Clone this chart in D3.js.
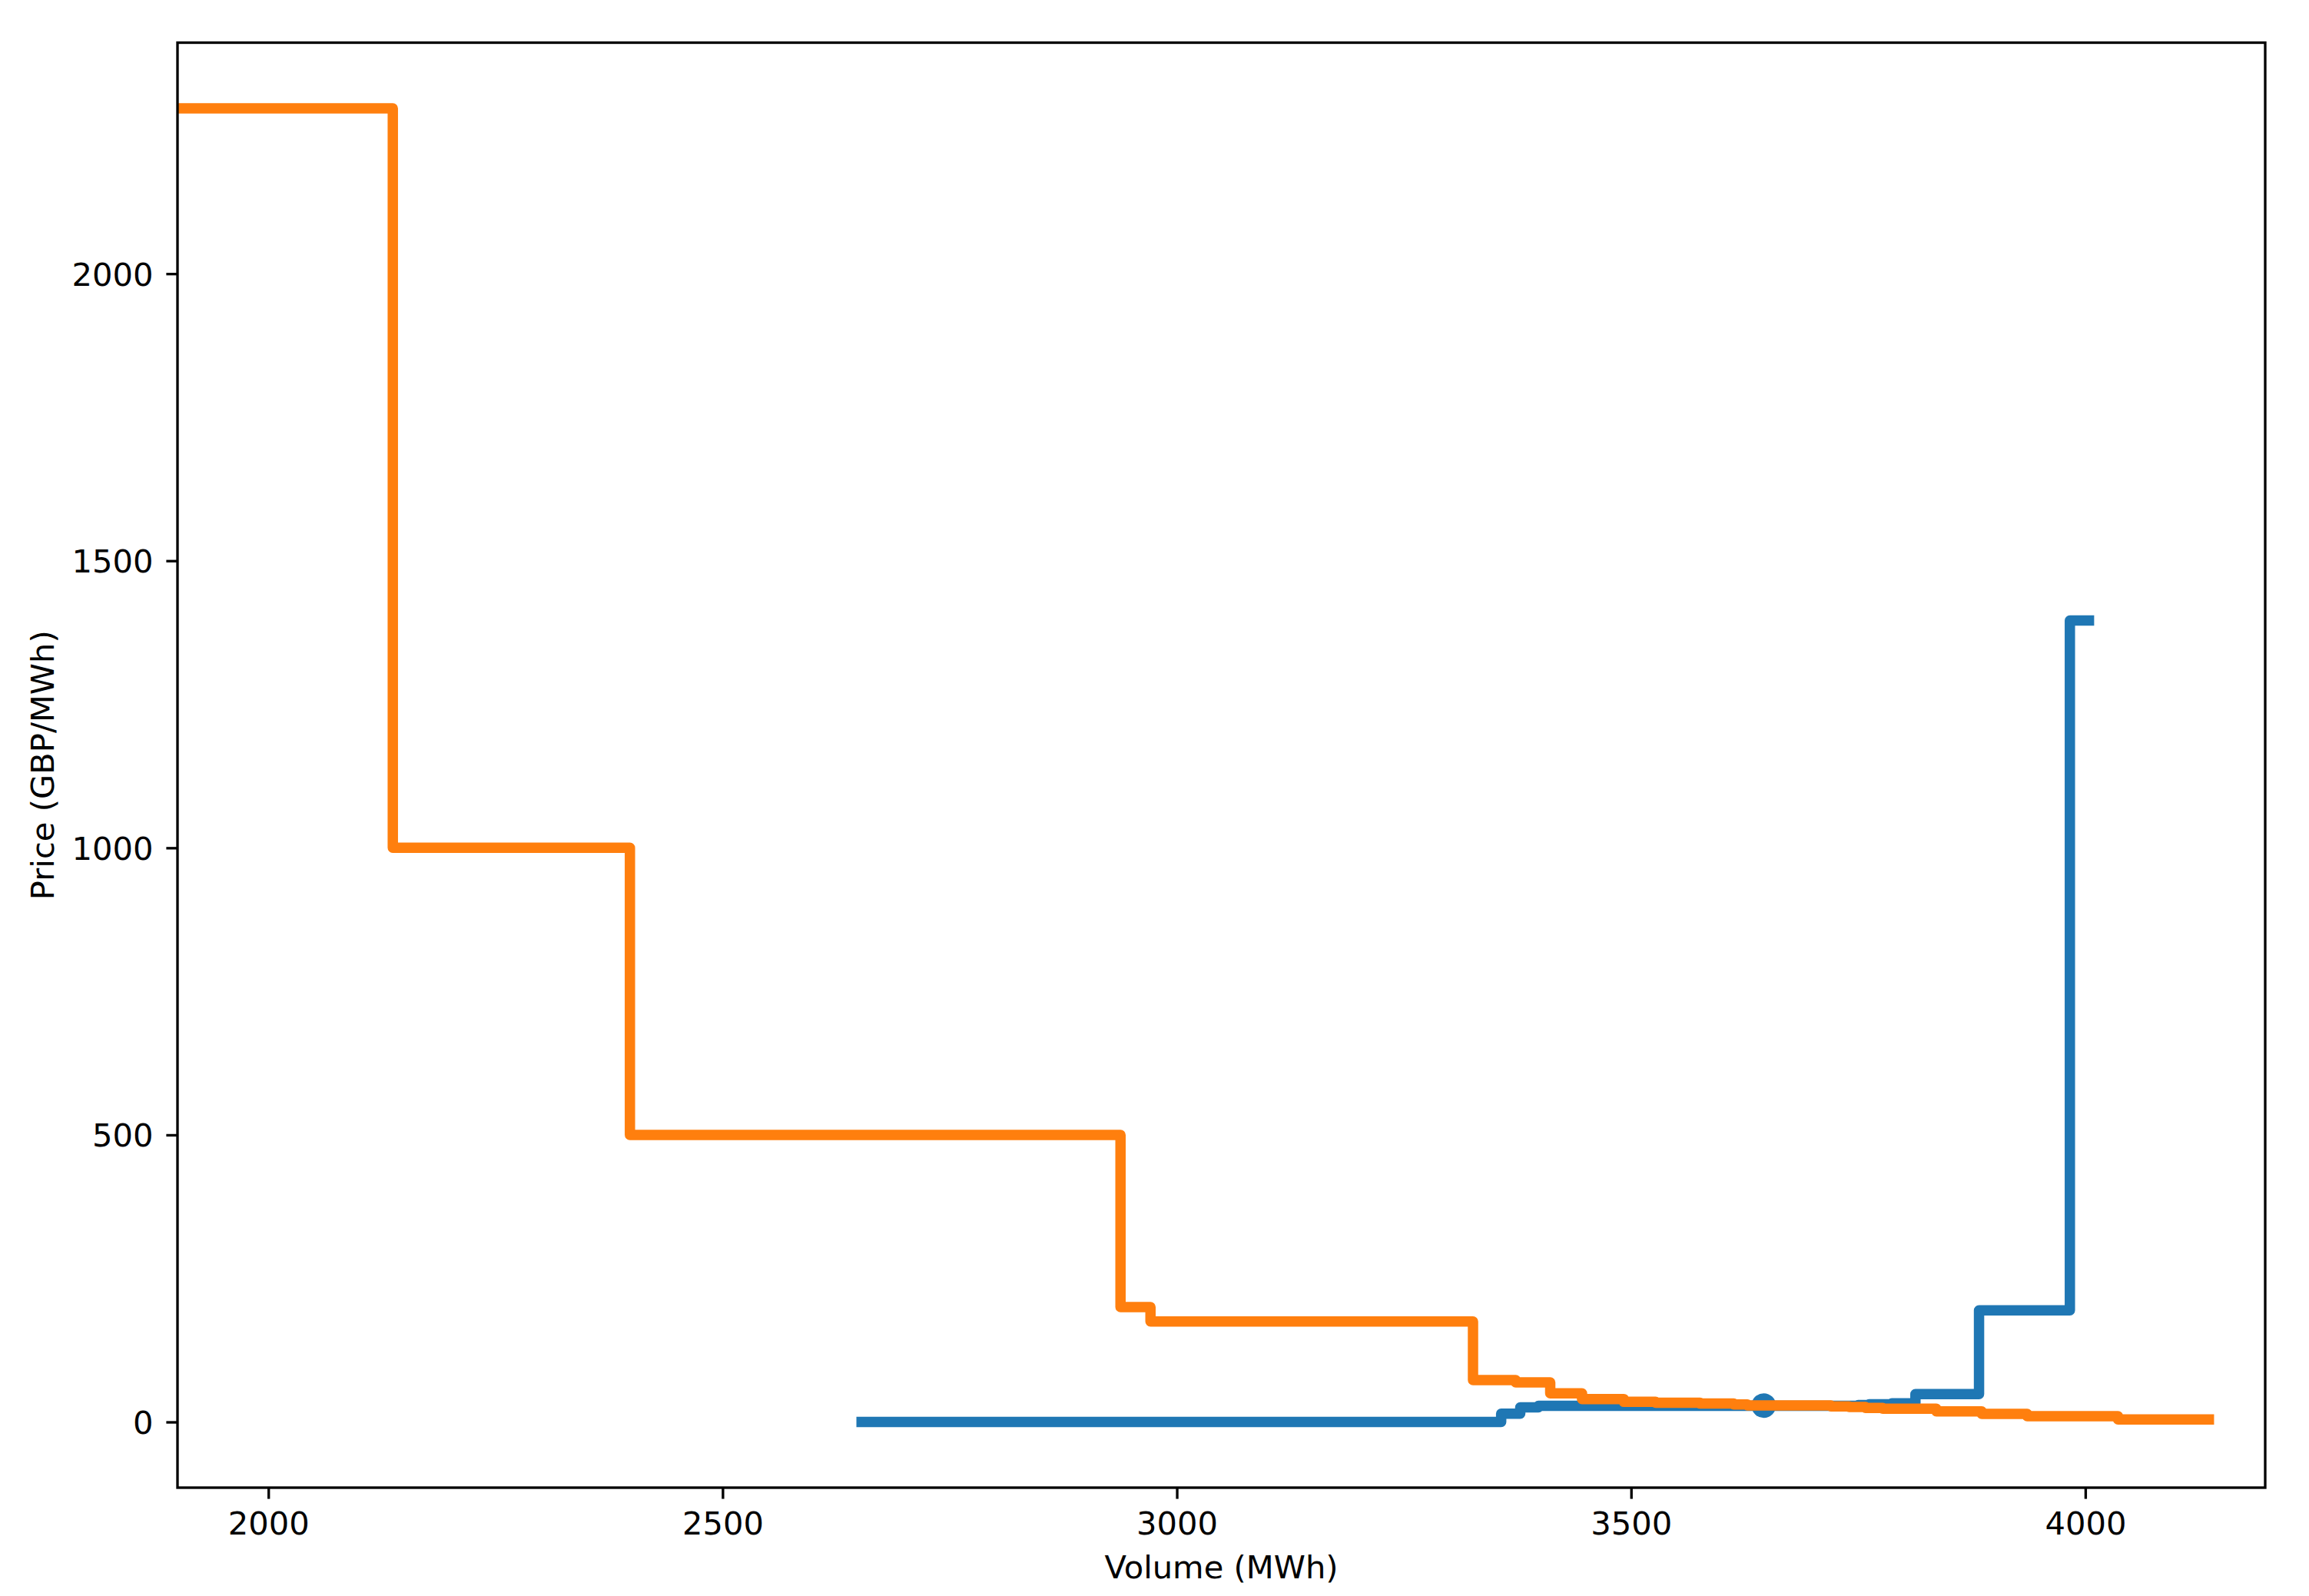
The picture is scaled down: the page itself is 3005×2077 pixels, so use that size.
<!DOCTYPE html>
<html>
<head>
<meta charset="utf-8">
<script src="https://cdn.jsdelivr.net/npm/d3@7"></script>
<style>
  body { margin: 0; background: #fff; }
  text { font-family: "DejaVu Sans", sans-serif; }
</style>
</head>
<body>
<div id="chart"></div>
<script>
// supply curve (blue): step starts and price of each step, last x closes the final step
const supplyVolume = [2653, 3357, 3378, 3398, 3750, 3762, 3787, 3813, 3883, 3983, 4004];
const supplyPrice = [0, 14.3, 25.4, 28, 29.5, 30.8, 32.6, 48.5, 194.5, 1396];

// demand curve (orange)
const demandVolume = [1880, 2137, 2398, 2938, 2971, 3326, 3373, 3411, 3446, 3492, 3527,
  3576, 3613, 3628, 3720, 3740, 3758, 3777, 3836, 3886, 3936, 4036, 4136];
const demandPrice = [2288, 1000, 500, 200, 175, 73, 69, 50, 40, 35, 33.5,
  32, 30.6, 28.8, 27, 26, 24.6, 23, 18.5, 14, 10, 4.5];

// clearing point
const clearVolume = [3646];
const clearPrice = [28.6];

const xTicks = [2000, 2500, 3000, 3500, 4000];
const yTicks = [0, 500, 1000, 1500, 2000];

const width = 3005, height = 2077;
const margin = { top: 55.5, right: 57, bottom: 141, left: 231 };
const fontSize = 41.67;

const svg = d3.select('#chart').append('svg')
  .attr('width', width)
  .attr('height', height);

const innerW = width - margin.left - margin.right;
const innerH = height - margin.top - margin.bottom;

const x = d3.scaleLinear()
  .domain([1900, 4198])
  .range([0, innerW]);
const y = d3.scaleLinear()
  .domain([-114.4, 2402.4])
  .range([innerH, 0]);

const g = svg.append('g')
  .attr('transform', 'translate(' + margin.left + ',' + margin.top + ')');

g.append('clipPath').attr('id', 'plot-clip')
  .append('rect')
  .attr('width', innerW)
  .attr('height', innerH);

// turn step arrays into points for curveStepAfter
const toPoints = (xs, ys) => xs.map((v, i) => [v, i < ys.length ? ys[i] : ys[ys.length - 1]]);

const line = d3.line()
  .x((d) => x(d[0]))
  .y((d) => y(d[1]))
  .curve(d3.curveStepAfter);

const plot = g.append('g').attr('clip-path', 'url(#plot-clip)');

plot.append('path')
  .datum(toPoints(supplyVolume, supplyPrice))
  .attr('fill', 'none')
  .attr('stroke', '#1f77b4')
  .attr('stroke-width', 13.5)
  .attr('stroke-linecap', 'square')
  .attr('stroke-linejoin', 'round')
  .attr('d', line);

plot.selectAll('.clear')
  .data(clearVolume.map((v, i) => [v, clearPrice[i]]))
  .enter().append('circle')
  .attr('fill', '#1f77b4')
  .attr('cx', (d) => x(d[0]))
  .attr('cy', (d) => y(d[1]))
  .attr('r', 16);

plot.append('path')
  .datum(toPoints(demandVolume, demandPrice))
  .attr('fill', 'none')
  .attr('stroke', '#ff7f0e')
  .attr('stroke-width', 13.5)
  .attr('stroke-linecap', 'square')
  .attr('stroke-linejoin', 'round')
  .attr('d', line);

// axes
const xAxis = g.append('g')
  .attr('transform', 'translate(0,' + innerH + ')')
  .call(d3.axisBottom(x).tickValues(xTicks).tickFormat(d3.format('d'))
    .tickSize(14.6).tickPadding(16.8).tickSizeOuter(0));
const yAxis = g.append('g')
  .call(d3.axisLeft(y).tickValues(yTicks).tickFormat(d3.format('d'))
    .tickSize(14.6).tickPadding(17).tickSizeOuter(0));

[xAxis, yAxis].forEach((a) => {
  a.select('.domain').remove();
  a.selectAll('line').attr('stroke', '#000').attr('stroke-width', 3.33);
  a.selectAll('text')
    .attr('fill', '#000')
    .style('font-size', fontSize + 'px')
    .style('font-family', '"DejaVu Sans", sans-serif');
});
yAxis.selectAll('text').attr('dy', '0.36em');

// frame
g.append('rect')
  .attr('width', innerW)
  .attr('height', innerH)
  .attr('fill', 'none')
  .attr('stroke', '#000')
  .attr('stroke-width', 3.33);

svg.append('text')
  .attr('x', margin.left + innerW / 2)
  .attr('y', 2054)
  .attr('text-anchor', 'middle')
  .style('font-size', fontSize + 'px')
  .text('Volume (MWh)');

svg.append('text')
  .attr('transform', 'translate(70,' + (margin.top + innerH / 2) + ') rotate(-90)')
  .attr('text-anchor', 'middle')
  .style('font-size', fontSize + 'px')
  .text('Price (GBP/MWh)');
</script>
</body>
</html>
